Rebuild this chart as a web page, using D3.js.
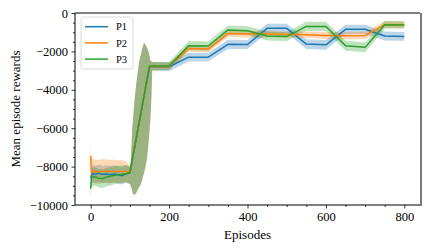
<!DOCTYPE html>
<html><head><meta charset="utf-8">
<script src="https://cdn.jsdelivr.net/npm/d3@7"></script>
<style>body{margin:0;background:#fff}svg text{font-family:"Liberation Serif","Times New Roman",serif;fill:#000}</style>
</head><body><svg id="c" width="429" height="252"></svg>
<script>
// ---- data ----
const seriesNames = ["P1", "P2", "P3"];
const episodes = [0, 2, 5, 10, 20, 30, 40, 50, 60, 70, 80, 90, 100, 150, 200, 250, 300, 350, 400, 450, 500, 550, 600, 650, 700, 750, 800];
const p1 = [-8600, -8450, -8350, -8400, -8350, -8400, -8380, -8420, -8380, -8420, -8480, -8380, -8320, -2800, -2800, -2300, -2300, -1630, -1640, -800, -800, -1620, -1660, -850, -850, -1200, -1220];
const p2 = [-7450, -8350, -8200, -8250, -8280, -8220, -8250, -8260, -8230, -8270, -8250, -8260, -8260, -2780, -2780, -1850, -1880, -1070, -1100, -1100, -1120, -1130, -1170, -1190, -1170, -605, -618];
const p3 = [-9150, -8580, -8550, -8520, -8600, -8630, -8550, -8500, -8450, -8420, -8400, -8370, -8320, -2760, -2760, -1700, -1720, -880, -920, -1200, -1230, -700, -700, -1700, -1790, -610, -620];
const p1Std = [500, 480, 450, 450, 450, 450, 450, 450, 450, 450, 450, 450, 400, 220, 230, 230, 230, 240, 240, 240, 240, 250, 250, 240, 240, 230, 230];
const p2Std = [650, 650, 620, 620, 620, 620, 620, 600, 600, 600, 580, 560, 500, 160, 170, 170, 170, 170, 170, 160, 160, 160, 180, 190, 190, 170, 160];
const p3Std = [500, 500, 480, 480, 480, 480, 480, 480, 470, 470, 460, 450, 420, 200, 210, 240, 240, 230, 230, 230, 230, 240, 240, 260, 260, 210, 190];
// band during the jump (episodes 100-157), shared by all runs
const jumpEpisodes = [100, 102, 104, 106, 108, 112, 116, 120, 124, 128, 132, 136, 140, 144, 148, 152, 155, 157];
const jumpUpper = [-8000, -7850, -7000, -6030, -5520, -4500, -3760, -3080, -2490, -2160, -1830, -1540, -1680, -1820, -2050, -2450, -2520, -2550];
const jumpLower = [-8900, -9000, -9100, -9270, -9440, -9460, -9380, -9200, -9050, -8910, -8650, -8320, -8000, -7470, -6660, -5610, -4340, -3000];
const xMajor = [0, 200, 400, 600, 800];
const yMajor = [0, -2000, -4000, -6000, -8000, -10000];

const colors = ["#1f77b4", "#ff7f0e", "#2ca02c"];
const means = [p1, p2, p3];
const stds = [p1Std, p2Std, p3Std];

const svg = d3.select("#c");
const L = 75, R = 420, T = 13, B = 205;
const x = d3.scaleLinear().domain([-40, 840]).range([L, R]);
const y = d3.scaleLinear().domain([-10000, 0]).range([B, T]);

svg.append("defs").append("clipPath").attr("id", "clip")
  .append("rect").attr("x", L).attr("y", T).attr("width", R - L).attr("height", B - T);

const plot = svg.append("g").attr("clip-path", "url(#clip)");

const area = d3.area().x(d => x(d.x)).y0(d => y(d.lo)).y1(d => y(d.hi));
const line = d3.line().x(d => x(d.x)).y(d => y(d.y));

// bands
means.forEach((m, k) => {
  const pts = [];
  episodes.forEach((e, i) => { if (e < 100) pts.push({x: e, lo: m[i] - stds[k][i], hi: m[i] + stds[k][i]}); });
  jumpEpisodes.forEach((e, i) => pts.push({x: e, lo: jumpLower[i], hi: jumpUpper[i]}));
  episodes.forEach((e, i) => { if (e >= 200) pts.push({x: e, lo: m[i] - stds[k][i], hi: m[i] + stds[k][i]}); });
  plot.append("path").attr("d", area(pts)).attr("fill", colors[k]).attr("fill-opacity", 0.3);
});
// lines
means.forEach((m, k) => {
  plot.append("path").attr("d", line(episodes.map((e, i) => ({x: e, y: m[i]}))))
    .attr("fill", "none").attr("stroke", colors[k]).attr("stroke-width", 1.5).attr("stroke-linejoin", "round");
});

// axes
const fmt = d => d < 0 ? "\u2212" + Math.abs(d) : String(d);
const xMinor = d3.range(0, 801, 50).filter(v => !xMajor.includes(v));
const yMinor = d3.range(-10000, 1, 500).filter(v => !yMajor.includes(v));

const gx = svg.append("g").attr("transform", `translate(0,${B})`)
  .call(d3.axisBottom(x).tickValues(xMajor).tickSize(3.5).tickPadding(3.5).tickFormat(fmt));
const gxm = svg.append("g").attr("transform", `translate(0,${B})`)
  .call(d3.axisBottom(x).tickValues(xMinor).tickSize(2).tickFormat(""));
const gy = svg.append("g").attr("transform", `translate(${L},0)`)
  .call(d3.axisLeft(y).tickValues(yMajor).tickSize(3.5).tickPadding(3.5).tickFormat(fmt));
const gym = svg.append("g").attr("transform", `translate(${L},0)`)
  .call(d3.axisLeft(y).tickValues(yMinor).tickSize(2).tickFormat(""));
[gx, gxm, gy, gym].forEach(g => {
  g.select(".domain").remove();
  g.selectAll("line").attr("stroke", "#000").attr("stroke-width", 0.8);
  g.selectAll("text").style("font-size", "12.5px").style("font-family", '"Liberation Serif","Times New Roman",serif');
});

// spines
svg.append("line").attr("x1", L).attr("x2", L).attr("y1", T).attr("y2", B).attr("stroke", "#000").attr("stroke-width", 1);
svg.append("line").attr("x1", L).attr("x2", R).attr("y1", B).attr("y2", B).attr("stroke", "#000").attr("stroke-width", 1);
svg.append("line").attr("x1", L).attr("x2", R).attr("y1", T).attr("y2", T).attr("stroke", "#000").attr("stroke-width", 1);
svg.append("line").attr("x1", R + 1).attr("x2", R + 1).attr("y1", T).attr("y2", B + 1).attr("stroke", "#7a7a7a").attr("stroke-width", 2);

// labels
svg.append("text").attr("x", (L + R) / 2).attr("y", 239).attr("text-anchor", "middle")
  .style("font-size", "13px").text("Episodes");
svg.append("text").attr("transform", `translate(20,${(T + B) / 2}) rotate(-90)`).attr("text-anchor", "middle")
  .style("font-size", "13px").text("Mean episode rewards");

// legend
const lg = svg.append("g");
lg.append("rect").attr("x", 81).attr("y", 17).attr("width", 52).attr("height", 52).attr("rx", 2.5)
  .attr("fill", "#fff").attr("fill-opacity", 0.8).attr("stroke", "#d0d0d0").attr("stroke-width", 0.8);
seriesNames.forEach((n, k) => {
  const yy = 26.7 + k * 16.2;
  lg.append("line").attr("x1", 85).attr("x2", 108).attr("y1", yy).attr("y2", yy)
    .attr("stroke", colors[k]).attr("stroke-width", 1.5);
  lg.append("text").attr("x", 116).attr("y", yy + 3.6).style("font-size", "10.5px").text(n);
});
</script>
</body></html>
